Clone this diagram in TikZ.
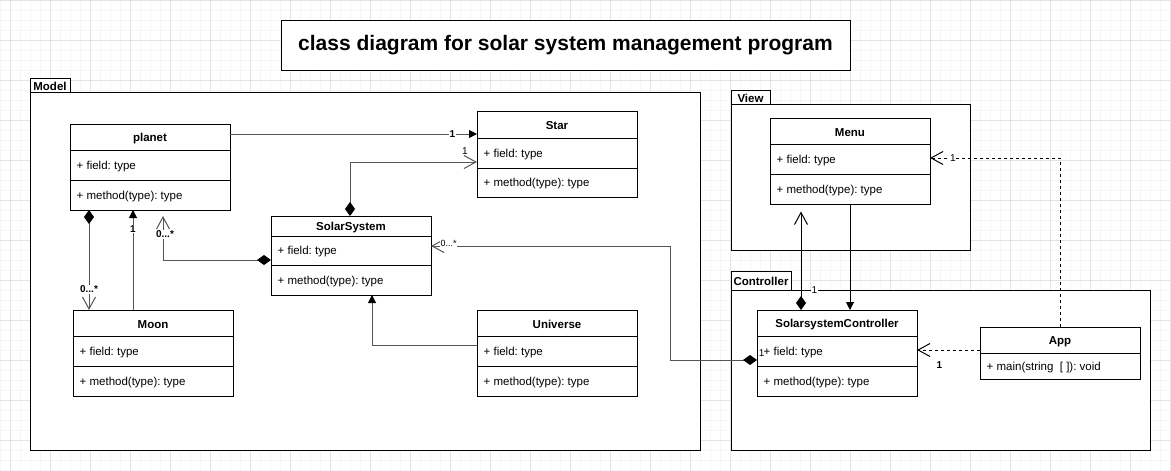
\documentclass[tikz,border=0pt]{standalone}
\usepackage{fontspec}
\setmainfont{Liberation Sans}
\usetikzlibrary{arrows.meta,calc}
\frenchspacing
\definecolor{gridminor}{HTML}{F5F5F5}
\definecolor{gridmajor}{HTML}{E4E4E4}
\definecolor{linegray}{HTML}{555555}
\tikzset{
  cls/.style={draw=black, fill=white, line width=1pt, inner sep=0pt, outer sep=0pt, minimum width=160pt},
  head/.style={font=\fontsize{11.5}{13}\selectfont\bfseries, inner sep=0pt},
  fld/.style={font=\fontsize{11.5}{13}\selectfont, inner sep=0pt, anchor=west},
  pkgbody/.style={draw=black, fill=white, line width=1pt, inner sep=0pt, outer sep=0pt, anchor=north west},
  pkgtab/.style={draw=black, fill=white, line width=1pt, inner sep=0pt, outer sep=0pt, anchor=south west},
  tabtxt/.style={font=\fontsize{11.5}{13}\selectfont\bfseries, inner sep=0pt},
  conn/.style={draw=linegray, line width=1pt},
  connk/.style={draw=black, line width=1pt},
  dashline/.style={dash pattern=on 3pt off 3pt},
  diaopen/.style={{Diamond[length=14pt,width=10pt,color=black]}-{Straight Barb[length=12pt,width=13pt]}},
  tofilled/.style={-{Triangle[length=8pt,width=8pt,color=black]}},
  toopen/.style={-{Straight Barb[length=12pt,width=13pt]}},
  lbl/.style={font=\fontsize{10}{12}\selectfont, inner sep=0.6pt},
  lblb/.style={font=\fontsize{10}{12}\selectfont\bfseries, inner sep=0.6pt},
  lbls/.style={font=\fontsize{9}{11}\selectfont, inner sep=0.6pt},
  wbg/.style={fill=white},
}
% name, x, y, height, title, header h, header+field h, field text, method text
\newcommand\umlclass[9]{%
  \node[cls, minimum height=#4, anchor=north west] (#1) at (#2,#3) {};
  \node[head] at ({#2+80},{#3+#6/2+1.5}) {#5};
  \draw[line width=1pt] ({#2},{#3+#6}) -- ({#2+160},{#3+#6});
  \draw[line width=1pt] ({#2},{#3+#7}) -- ({#2+160},{#3+#7});
  \node[fld] at ({#2+6.5},{#3+(#6+#7)/2+1.5}) {#8};
  \node[fld] at ({#2+6.5},{#3+(#7+#4)/2+1.5}) {#9};
}
% name, x, y (body top), width, height, tab width, tab height, label
\newcommand\umlpkg[8]{%
  \node[pkgbody, minimum width=#4, minimum height=#5] (#1) at (#2,#3) {};
  \node[pkgtab, minimum width=#6, minimum height=#7] (#1tab) at (#1.north west) {};
  \node[tabtxt] at ($(#1tab.center)+(0,1)$) {#8};
}
\begin{document}
\begin{tikzpicture}[x=1pt,y=-1pt]
\useasboundingbox (0,0) rectangle (1171,471);
\fill[white] (0,0) rectangle (1171,471);
% background grid
\foreach \i in {0,10,...,1170} \draw[gridminor, line width=1pt] (\i,0) -- (\i,471);
\foreach \j in {0,10,...,470} \draw[gridminor, line width=1pt] (0,\j) -- (1171,\j);
\foreach \i in {10,50,...,1170} \draw[gridmajor, line width=1pt] (\i,0) -- (\i,471);
\foreach \j in {0,40,...,440} \draw[gridmajor, line width=1pt] (0,\j) -- (1171,\j);

% title
\node[draw=black, fill=white, line width=1pt, inner sep=0pt, outer sep=0pt,
      minimum width=569pt, minimum height=50pt, anchor=north west,
      font=\fontsize{21}{25}\selectfont\bfseries] (title) at (281,20)
      {class diagram for solar system management program};

% packages
\umlpkg{model}{30}{92}{670}{358}{40}{14}{Model}
\umlpkg{view}{731}{104}{239}{146}{39}{14}{View}
\umlpkg{controller}{731}{290}{419}{160}{60}{19}{Controller}

% classes
\umlclass{planet}{70}{124}{86}{planet}{26}{56}{+ field: type}{+ method(type): type}
\umlclass{star}{477}{111}{86}{Star}{27}{57}{+ field: type}{+ method(type): type}
\umlclass{ss}{271}{216}{79}{SolarSystem}{20}{49}{+ field: type}{+ method(type): type}
\umlclass{moon}{73}{310}{86}{Moon}{26}{56}{+ field: type}{+ method(type): type}
\umlclass{universe}{477}{310}{86}{Universe}{26}{56}{+ field: type}{+ method(type): type}
\umlclass{menu}{770}{118}{86}{Menu}{26}{56}{+ field: type}{+ method(type): type}
\umlclass{ssc}{757}{310}{86}{SolarsystemController}{26}{56}{+ field: type}{+ method(type): type}
\umlclass{app}{980}{327}{52}{App}{26}{52}{+ main(string~~[~]): void}{}

% connectors
\draw[conn, tofilled] ($(planet.north east)+(0,10)$) -- ($(star.north west)+(0,23)$)
  node[pos=0.9, lblb, wbg] {1};
\draw[conn, diaopen] ($(ss.north west)+(79,0)$) |- ($(star.north west)+(0,51)$)
  node[at end, lbl, xshift=-12pt, yshift=10.5pt] {1};
\draw[conn, diaopen, shorten >=6pt] ($(ss.north west)+(0,44)$) -| ($(planet.south west)+(93,0)$)
  node[at end, lblb, wbg, xshift=2pt, yshift=-24.5pt] {0...*};
\draw[conn, diaopen] ($(planet.south west)+(19,0)$) -- ($(moon.north west)+(16,0)$)
  node[at end, lblb, wbg, yshift=20.5pt] {0...*};
\draw[conn, tofilled] ($(moon.north west)+(60,0)$) -- ($(planet.south west)+(63,0)$)
  node[at end, lblb, wbg, yshift=-19pt] {1};
\draw[conn, tofilled] ($(universe.north west)+(0,35)$) -| ($(ss.south west)+(101,0)$);
\coordinate (bend) at (670,246);
\draw[conn, diaopen] ($(ssc.north west)+(0,50)$) -| (bend) -- ($(ss.north east)+(0,30)$)
  node[at end, lbls, wbg, xshift=17.7pt, yshift=3pt] {0...*};
\node[lbl] at ($(ssc.north west)+(4.7,43.5)$) {1};
\draw[connk, diaopen, shorten >=7.5pt] ($(ssc.north west)+(44,0)$) -- ($(menu.south west)+(31,0)$)
  node[at start, lbl, wbg, xshift=13.5pt, yshift=20pt] {1};
\draw[connk, tofilled] ($(menu.south west)+(80,0)$) -- ($(ssc.north west)+(93,0)$);
\draw[connk, dashline, toopen] ($(app.north west)+(80,0)$) |- ($(menu.north east)+(0,40)$)
  node[at end, lbl, wbg, xshift=23pt] {1};
\draw[connk, dashline, toopen] ($(app.north west)+(0,23)$) -- ($(ssc.north east)+(0,40)$)
  node[at end, lblb, xshift=22.5pt, yshift=-15pt] {1};
\end{tikzpicture}
\end{document}
